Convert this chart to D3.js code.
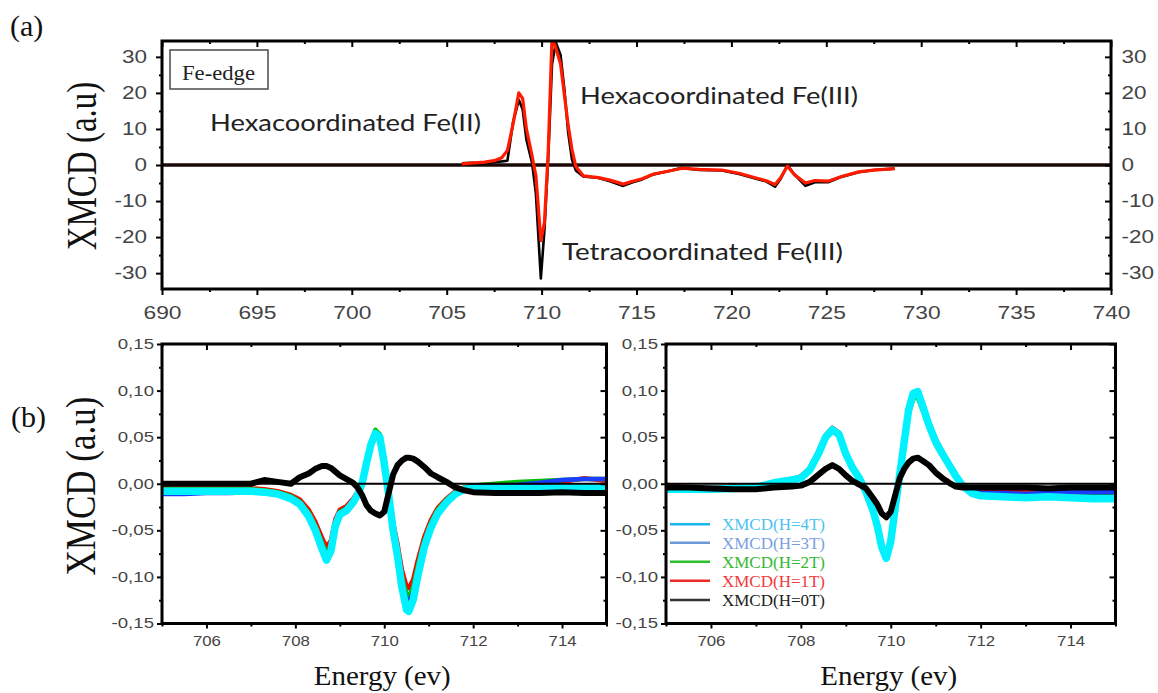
<!DOCTYPE html>
<html><head><meta charset="utf-8">
<script src="https://cdn.jsdelivr.net/npm/d3@7"></script>
<style>html,body{margin:0;padding:0;background:#fff;} svg{display:block;}</style>
</head><body>
<svg id="c" width="1158" height="693"></svg>
<script>
// ---------------- DATA ----------------
// Panel (a): Fe L-edge XMCD
const topEnergy = [705.8,706.3,707.0,707.5,707.9,708.2,708.5,708.8,709.0,709.2,709.5,709.7,709.96,710.15,710.35,710.55,710.75,711.0,711.2,711.4,711.6,711.8,712.2,713.0,713.6,714.3,714.8,715.3,715.9,716.6,717.4,718.3,719.5,720.4,721.3,721.8,722.3,722.6,722.95,723.3,723.9,724.4,725.1,725.8,726.7,727.5,728.6];
const topBlack = [0.5,0.6,0.5,0.8,1.0,1.2,12,18,15.5,7,0.5,-8,-31.5,-18,2,28,34,30.5,21,9,1.5,-1.5,-3.2,-3.6,-4.5,-5.8,-4.8,-4.0,-2.6,-1.8,-0.8,-1.4,-1.5,-2.5,-3.8,-4.5,-6.0,-3.8,0.0,-2.5,-5.8,-4.8,-4.8,-3.3,-2.0,-1.4,-1.0];
const topRed = [0.3,0.5,0.8,1.2,2.0,4.0,11.5,20,18.5,10,2.5,-3,-21,-16,4,35.5,32.5,28,19.5,11,4.3,-0.4,-3.0,-3.5,-4.2,-5.3,-4.5,-3.8,-2.5,-1.8,-0.9,-1.2,-1.4,-2.3,-3.6,-4.3,-5.4,-3.5,-0.3,-2.6,-5.0,-4.3,-4.5,-3.2,-1.9,-1.4,-1.0];
const topXTicks = [690,695,700,705,710,715,720,725,730,735,740];
const topXMinor = [692.5,697.5,702.5,707.5,712.5,717.5,722.5,727.5,732.5,737.5];
const topYTicks = [-30,-20,-10,0,10,20,30];
const topYMinor = [-25,-15,-5,5,15,25];

// Panel (b) left
const leftEnergy = [705.0,705.5,706.0,706.5,707.0,707.3,707.6,707.9,708.1,708.3,708.45,708.6,708.7,708.8,708.9,709.0,709.15,709.3,709.4,709.5,709.6,709.7,709.8,709.9,710.0,710.1,710.2,710.3,710.4,710.5,710.55,710.65,710.75,710.9,711.05,711.2,711.4,711.6,711.8,712.0,712.5,713.0,713.5,714.0,714.5,715.0];
const left4T = [-0.008,-0.008,-0.008,-0.008,-0.008,-0.009,-0.011,-0.016,-0.022,-0.035,-0.05,-0.07,-0.082,-0.072,-0.045,-0.033,-0.029,-0.02,-0.012,0.0,0.022,0.042,0.054,0.05,0.022,-0.012,-0.05,-0.078,-0.112,-0.135,-0.137,-0.125,-0.1,-0.068,-0.047,-0.032,-0.02,-0.011,-0.006,-0.005,-0.005,-0.005,-0.005,-0.004,-0.004,-0.004];
const left3T = [-0.011,-0.011,-0.010,-0.010,-0.009,-0.009,-0.010,-0.014,-0.020,-0.033,-0.048,-0.066,-0.077,-0.068,-0.043,-0.031,-0.027,-0.019,-0.011,0.001,0.022,0.041,0.053,0.049,0.021,-0.011,-0.047,-0.073,-0.105,-0.125,-0.128,-0.117,-0.094,-0.064,-0.044,-0.030,-0.018,-0.010,-0.005,-0.003,-0.002,-0.001,0.001,0.004,0.005,0.005];
const left2T = [-0.006,-0.006,-0.006,-0.006,-0.006,-0.007,-0.009,-0.013,-0.019,-0.031,-0.045,-0.063,-0.075,-0.066,-0.041,-0.030,-0.026,-0.018,-0.010,0.002,0.024,0.044,0.058,0.053,0.023,-0.010,-0.045,-0.070,-0.100,-0.119,-0.121,-0.111,-0.089,-0.061,-0.042,-0.028,-0.017,-0.009,-0.004,-0.002,0.000,0.002,0.003,0.004,0.005,0.005];
const left1T = [-0.005,-0.005,-0.005,-0.005,-0.005,-0.006,-0.008,-0.012,-0.017,-0.028,-0.041,-0.058,-0.068,-0.061,-0.038,-0.028,-0.024,-0.016,-0.009,0.002,0.023,0.043,0.056,0.051,0.022,-0.009,-0.042,-0.065,-0.093,-0.110,-0.112,-0.103,-0.083,-0.057,-0.039,-0.026,-0.016,-0.008,-0.004,-0.002,-0.001,0.000,0.001,0.002,0.006,0.003];
const left0T = [0.0,0.0,0.0,0.0,0.0,0.004,0.002,0.0,0.007,0.011,0.016,0.019,0.019,0.017,0.013,0.009,0.005,0.001,-0.004,-0.012,-0.023,-0.029,-0.032,-0.034,-0.030,-0.010,0.010,0.020,0.025,0.028,0.028,0.027,0.024,0.018,0.011,0.007,0.002,-0.004,-0.007,-0.009,-0.010,-0.010,-0.010,-0.009,-0.010,-0.010];

// Panel (b) right
const rightEnergy = [705.0,705.5,706.0,706.5,707.0,707.4,707.8,708.0,708.2,708.4,708.55,708.7,708.85,709.0,709.15,709.3,709.45,709.6,709.7,709.8,709.9,710.0,710.1,710.2,710.3,710.4,710.5,710.6,710.7,710.85,711.0,711.15,711.3,711.45,711.6,711.8,712.0,712.5,713.0,713.5,714.0,714.5,715.0];
const right4T = [-0.006,-0.006,-0.006,-0.005,-0.004,0.001,0.004,0.006,0.015,0.033,0.05,0.058,0.053,0.032,0.017,0.006,-0.009,-0.028,-0.045,-0.068,-0.08,-0.062,-0.025,0.01,0.045,0.08,0.097,0.099,0.085,0.063,0.045,0.032,0.02,0.008,-0.002,-0.01,-0.013,-0.014,-0.015,-0.014,-0.015,-0.016,-0.016];
const right3T = [-0.005,-0.005,-0.005,-0.004,-0.003,0.002,0.004,0.006,0.014,0.032,0.049,0.058,0.052,0.031,0.016,0.005,-0.009,-0.027,-0.044,-0.067,-0.079,-0.061,-0.024,0.010,0.044,0.079,0.096,0.098,0.084,0.062,0.044,0.031,0.019,0.007,-0.002,-0.008,-0.010,-0.010,-0.011,-0.010,-0.009,-0.009,-0.009];
const right2T = [-0.007,-0.007,-0.007,-0.006,-0.006,0.000,0.003,0.005,0.013,0.031,0.048,0.057,0.051,0.030,0.016,0.005,-0.010,-0.029,-0.046,-0.069,-0.078,-0.060,-0.024,0.009,0.042,0.075,0.091,0.093,0.080,0.060,0.042,0.030,0.018,0.006,-0.003,-0.009,-0.011,-0.011,-0.011,-0.011,-0.010,-0.010,-0.010];
const right1T = [-0.001,-0.004,-0.004,-0.003,-0.003,0.002,0.005,0.008,0.017,0.036,0.052,0.060,0.055,0.033,0.018,0.006,-0.008,-0.027,-0.043,-0.065,-0.075,-0.058,-0.023,0.012,0.047,0.082,0.097,0.099,0.086,0.066,0.048,0.034,0.022,0.009,-0.001,-0.007,-0.008,-0.008,-0.008,-0.007,-0.008,-0.008,-0.007];
const right0T = [-0.004,-0.004,-0.005,-0.006,-0.006,-0.004,-0.003,-0.002,0.002,0.010,0.016,0.020,0.016,0.009,0.003,-0.001,-0.005,-0.015,-0.022,-0.032,-0.036,-0.030,-0.012,0.006,0.016,0.023,0.027,0.028,0.025,0.020,0.012,0.006,0.001,-0.003,-0.004,-0.004,-0.004,-0.004,-0.004,-0.005,-0.004,-0.004,-0.004];

const bottomXTicks = [706,708,710,712,714];
const bottomXMinor = [705,707,709,711,713,715];
const bottomYTicks = [-0.15,-0.10,-0.05,0,0.05,0.10,0.15];
const bottomYLabels = ["-0,15","-0,10","-0,05","0,00","0,05","0,10","0,15"];
const bottomYMinor = [-0.125,-0.075,-0.025,0.025,0.075,0.125];
const legendLabels = ["XMCD(H=4T)","XMCD(H=3T)","XMCD(H=2T)","XMCD(H=1T)","XMCD(H=0T)"];
const annotations = ["Hexacoordinated Fe(II)","Hexacoordinated Fe(III)","Tetracoordinated Fe(III)"];

// ---------------- DRAW ----------------
const svg = d3.select('#c');
const SANS = "'Liberation Sans', Arial, sans-serif";
const SERIF = "'Liberation Serif', 'Times New Roman', serif";
const TICKCOL = '#444';

function stretchText(sel, sx) {
  sel.each(function(){
    const t = d3.select(this);
    const x = +t.attr('x') || 0;
    t.attr('x', 0).attr('transform', `translate(${x},0) scale(${sx},1)`);
  });
}
function styleAxis(g, fontSize, sx) {
  g.select('.domain').remove();
  g.selectAll('line').attr('stroke', '#000').attr('stroke-width', 2);
  const t = g.selectAll('text').attr('font-family', SANS).attr('font-size', fontSize).attr('fill', TICKCOL);
  if (sx) stretchText(t, sx);
}
let clipId = 0;
function panel(xs, ys) {
  const [x0, x1] = xs.range(); const [y1, y0] = ys.range();
  const id = 'clip' + (clipId++);
  svg.append('clipPath').attr('id', id).append('rect')
    .attr('x', x0).attr('y', y0).attr('width', x1 - x0).attr('height', y1 - y0);
  return svg.append('g').attr('clip-path', `url(#${id})`);
}
function frame(xs, ys) {
  const [x0, x1] = xs.range(); const [y1, y0] = ys.range();
  svg.append('rect').attr('x', x0).attr('y', y0).attr('width', x1 - x0).attr('height', y1 - y0)
    .attr('fill', 'none').attr('stroke', '#000').attr('stroke-width', 3);
}
function vLabel(cx, cy, size, sx, str) {
  svg.append('text').attr('transform', `translate(${cx},${cy}) scale(${sx},1) rotate(-90)`)
    .attr('text-anchor', 'middle').attr('font-family', SERIF).attr('font-size', size)
    .attr('fill', '#111').text(str);
}

// ---- Panel (a) ----
const xT = d3.scaleLinear().domain([690, 740]).range([162, 1111]);
const yT = d3.scaleLinear().domain([-34.4, 34.4]).range([289, 41]);
{
  const g = panel(xT, yT);
  g.append('line').attr('x1', 162).attr('x2', 1111).attr('y1', yT(0)).attr('y2', yT(0))
    .attr('stroke', '#1a0806').attr('stroke-width', 3.5);
  const line = d3.line().x((d, i) => xT(topEnergy[i])).y(d => yT(d));
  g.append('path').attr('d', line(topBlack)).attr('fill', 'none').attr('stroke', '#000')
    .attr('stroke-width', 2.6).attr('stroke-linejoin', 'round');
  g.append('path').attr('d', line(topRed)).attr('fill', 'none').attr('stroke', '#ff1a00')
    .attr('stroke-width', 3.2).attr('stroke-linejoin', 'round');

  styleAxis(svg.append('g').attr('transform', 'translate(0,289)')
    .call(d3.axisBottom(xT).tickValues(topXTicks).tickSize(6).tickPadding(11).tickFormat(d => d)), 19, 1.2);
  styleAxis(svg.append('g').attr('transform', 'translate(0,289)')
    .call(d3.axisBottom(xT).tickValues(topXMinor).tickSize(3).tickFormat('')));
  styleAxis(svg.append('g').attr('transform', 'translate(0,41)')
    .call(d3.axisTop(xT).tickValues(topXTicks).tickSize(-6).tickFormat('')));
  styleAxis(svg.append('g').attr('transform', 'translate(0,41)')
    .call(d3.axisTop(xT).tickValues(topXMinor).tickSize(-3).tickFormat('')));
  styleAxis(svg.append('g').attr('transform', 'translate(162,0)')
    .call(d3.axisLeft(yT).tickValues(topYTicks).tickSize(6).tickPadding(9).tickFormat(d => d)), 18, 1.25);
  styleAxis(svg.append('g').attr('transform', 'translate(162,0)')
    .call(d3.axisLeft(yT).tickValues(topYMinor).tickSize(3).tickFormat('')));
  styleAxis(svg.append('g').attr('transform', 'translate(1111,0)')
    .call(d3.axisRight(yT).tickValues(topYTicks).tickSize(-6).tickPadding(10.5).tickFormat(d => d)), 18, 1.25);
  styleAxis(svg.append('g').attr('transform', 'translate(1111,0)')
    .call(d3.axisRight(yT).tickValues(topYMinor).tickSize(-3).tickFormat('')));
  frame(xT, yT);

  // Fe-edge box
  svg.append('rect').attr('x', 170).attr('y', 50).attr('width', 98).attr('height', 39)
    .attr('fill', '#fff').attr('stroke', '#555').attr('stroke-width', 1.6);
  svg.append('text').attr('x', 182).attr('y', 80).attr('font-family', SERIF).attr('font-size', 21)
    .attr('textLength', 73).attr('lengthAdjust', 'spacingAndGlyphs').attr('fill', '#222').text('Fe-edge');

  const annPos = [[210, 131, 271], [580, 104, 278], [562, 260, 281]];
  annotations.forEach((s, i) => {
    svg.append('text').attr('x', annPos[i][0]).attr('y', annPos[i][1])
      .attr('font-family', "Lato, 'Open Sans', sans-serif").attr('font-size', 24)
      .attr('textLength', annPos[i][2]).attr('lengthAdjust', 'spacingAndGlyphs')
      .attr('fill', '#222').text(s);
  });

  vLabel(96, 166, 33, 1.25, 'XMCD (a.u)');
  svg.append('text').attr('x', 10).attr('y', 36).attr('font-family', SERIF).attr('font-size', 30)
    .attr('fill', '#111').text('(a)');
}

// ---- Panel (b) ----
const yB = d3.scaleLinear().domain([-0.15, 0.15]).range([623.5, 344]);
const seriesColors = ['#000000', '#ff0000', '#00c000', '#1a3cff', '#00f2ff'];
const seriesWidths = [6, 4.5, 4.5, 4.5, 7.5];

function bottomPanel(xs, energy, series, drawOrder) {
  const g = panel(xs, yB);
  const line = d3.line().x((d, i) => xs(energy[i])).y(d => yB(d));
  drawOrder.forEach(k => {
    g.append('path').attr('d', line(series[k])).attr('fill', 'none')
      .attr('stroke', seriesColors[k]).attr('stroke-width', seriesWidths[k])
      .attr('stroke-linejoin', 'round').attr('stroke-linecap', 'round');
  });
  const [x0, x1] = xs.range();
  svg.append('line').attr('x1', x0).attr('x2', x1).attr('y1', yB(0)).attr('y2', yB(0))
    .attr('stroke', '#000').attr('stroke-width', 2);

  styleAxis(svg.append('g').attr('transform', 'translate(0,623.5)')
    .call(d3.axisBottom(xs).tickValues(bottomXTicks).tickSize(5).tickPadding(8).tickFormat(d => d)), 14, 1.2);
  styleAxis(svg.append('g').attr('transform', 'translate(0,623.5)')
    .call(d3.axisBottom(xs).tickValues(bottomXMinor).tickSize(3).tickFormat('')));
  styleAxis(svg.append('g').attr('transform', 'translate(0,344)')
    .call(d3.axisTop(xs).tickValues(bottomXTicks).tickSize(-6).tickFormat('')));
  styleAxis(svg.append('g').attr('transform', 'translate(0,344)')
    .call(d3.axisTop(xs).tickValues(bottomXMinor).tickSize(-3).tickFormat('')));
  styleAxis(svg.append('g').attr('transform', `translate(${x0},0)`)
    .call(d3.axisLeft(yB).tickValues(bottomYTicks).tickSize(5).tickPadding(3)
      .tickFormat((d, i) => bottomYLabels[i])), 14, 1.33);
  styleAxis(svg.append('g').attr('transform', `translate(${x0},0)`)
    .call(d3.axisLeft(yB).tickValues(bottomYMinor).tickSize(3).tickFormat('')));
  styleAxis(svg.append('g').attr('transform', `translate(${x1},0)`)
    .call(d3.axisRight(yB).tickValues(bottomYTicks).tickSize(-6).tickFormat('')));
  styleAxis(svg.append('g').attr('transform', `translate(${x1},0)`)
    .call(d3.axisRight(yB).tickValues(bottomYMinor).tickSize(-3).tickFormat('')));
  frame(xs, yB);

  svg.append('text').attr('x', (x0 + x1) / 2 - 2).attr('y', 685).attr('text-anchor', 'middle')
    .attr('font-family', SERIF).attr('font-size', 27).attr('textLength', 137)
    .attr('lengthAdjust', 'spacingAndGlyphs').attr('fill', '#111').text('Energy (ev)');
}

const xBL = d3.scaleLinear().domain([705, 715]).range([162, 606.5]);
const xBR = d3.scaleLinear().domain([705, 715]).range([666, 1115.5]);
bottomPanel(xBL, leftEnergy, [left0T, left1T, left2T, left3T, left4T], [1, 2, 3, 4, 0]);
bottomPanel(xBR, rightEnergy, [right0T, right1T, right2T, right3T, right4T], [1, 2, 3, 4, 0]);

vLabel(95, 486, 35, 1.2, 'XMCD (a.u)');
svg.append('text').attr('x', 11).attr('y', 427).attr('font-family', SERIF).attr('font-size', 30)
  .attr('fill', '#111').text('(b)');

// Legend (right panel)
const legLineCol = ['#1ab6ee', '#6d9bd8', '#2ec02e', '#ee2a2a', '#333333'];
const legTextCol = ['#4cc2f0', '#7b9ee0', '#34b834', '#f03a3a', '#222222'];
const legY = [524.3, 542.7, 561.7, 580.7, 600];
legendLabels.forEach((s, i) => {
  svg.append('line').attr('x1', 670).attr('x2', 710).attr('y1', legY[i]).attr('y2', legY[i])
    .attr('stroke', legLineCol[i]).attr('stroke-width', 2.5);
  svg.append('text').attr('x', 722).attr('y', legY[i] + 6).attr('font-family', SERIF)
    .attr('font-size', 16).attr('textLength', 103).attr('lengthAdjust', 'spacingAndGlyphs')
    .attr('fill', legTextCol[i]).text(s);
});
</script>
</body></html>
